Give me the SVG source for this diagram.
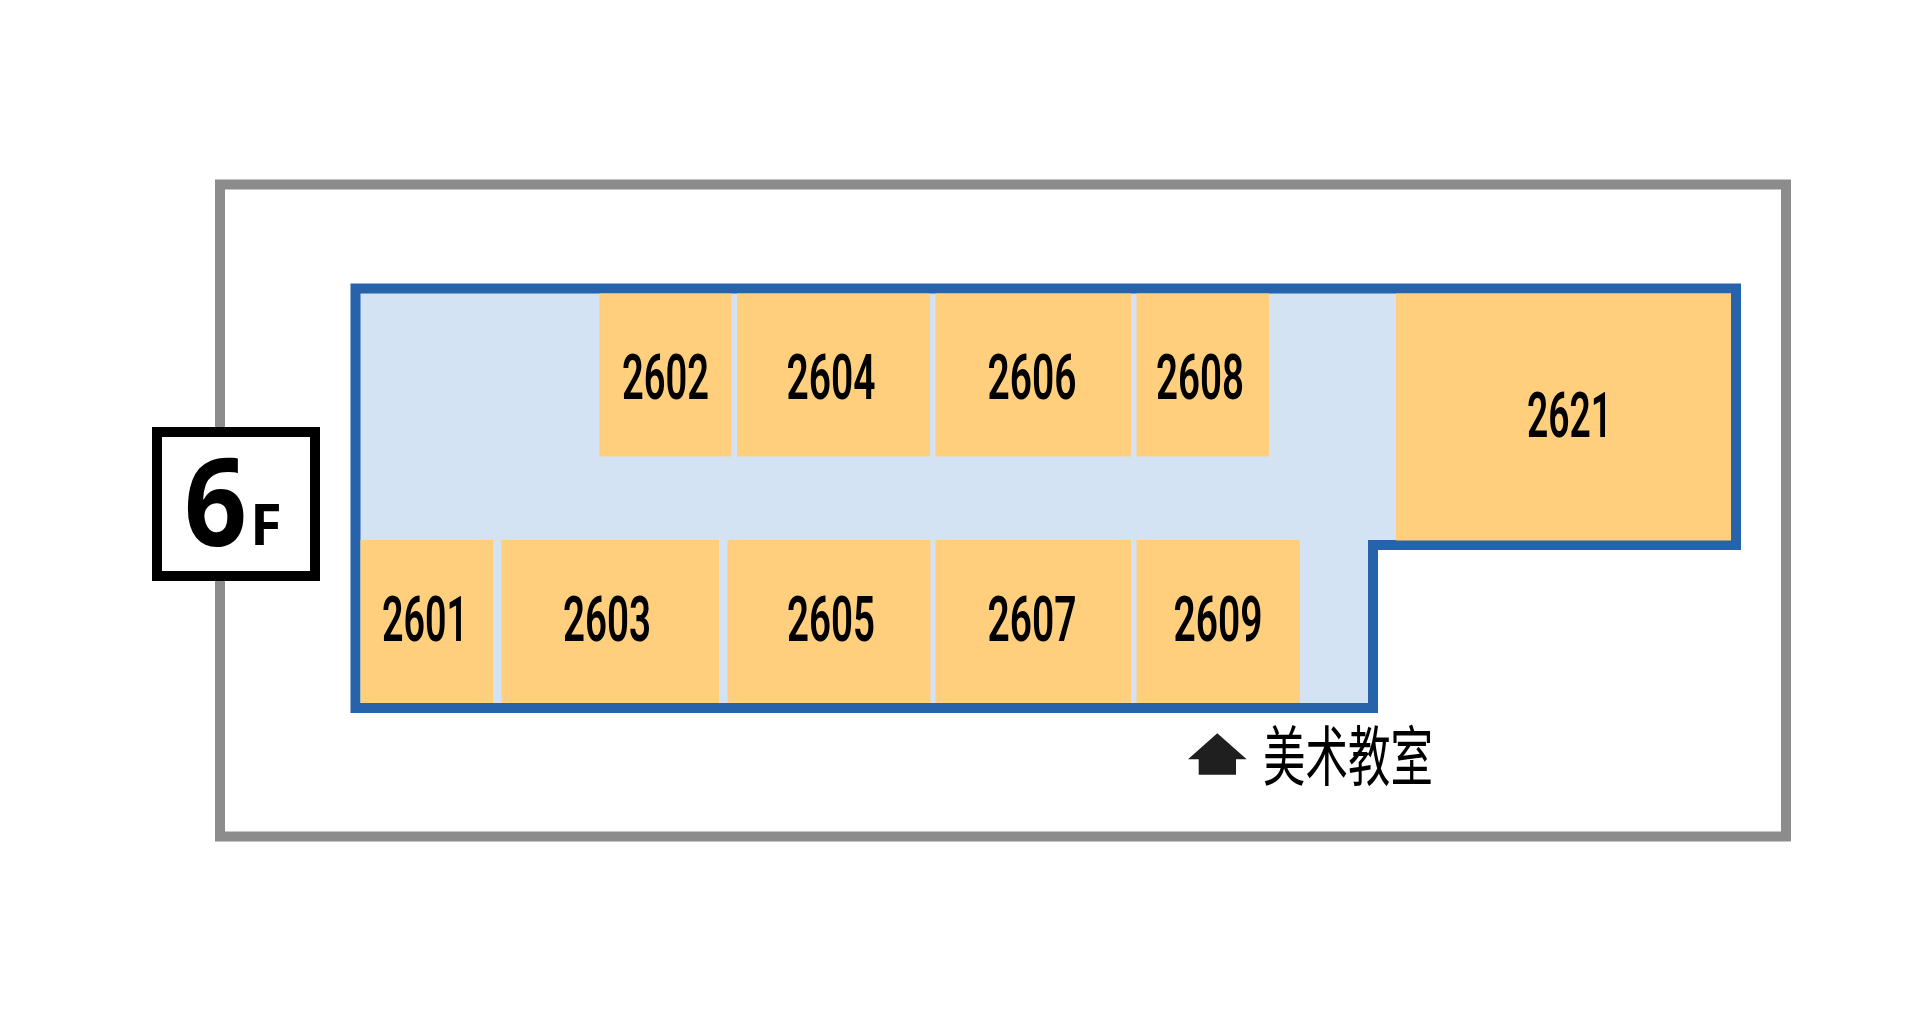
<svg xmlns="http://www.w3.org/2000/svg" width="1927" height="1019" viewBox="0 0 1927 1019">
<style>
.room{fill:#ffcf7e}
.num{font-family:"Roboto","Liberation Sans",sans-serif;font-weight:600;font-size:63px;fill:#000}
.fl{font-family:"Open Sans","Liberation Sans",sans-serif;font-weight:700;fill:#000}
</style>
<rect width="1927" height="1019" fill="#fff"/>
<g id="building"><rect x="220" y="184.500" width="1566" height="652" fill="#fff" stroke="#8c8c8c" stroke-width="10"/></g>
<g id="floor"><path d="M355.500 288.500H1736V545H1373V708H355.500Z" fill="#d4e3f3" stroke="#2763ab" stroke-width="10"/></g>
<g id="r2602"><rect class="room" x="599.500" y="293.500" width="132" height="163"/><text class="num" x="622" y="399" textLength="87" lengthAdjust="spacingAndGlyphs">2602</text></g>
<g id="r2604"><rect class="room" x="737" y="293.500" width="193" height="163"/><text class="num" x="786.500" y="399" textLength="89" lengthAdjust="spacingAndGlyphs">2604</text></g>
<g id="r2606"><rect class="room" x="935.500" y="293.500" width="195.500" height="163"/><text class="num" x="987.500" y="399" textLength="89" lengthAdjust="spacingAndGlyphs">2606</text></g>
<g id="r2608"><rect class="room" x="1136.500" y="293.500" width="132.500" height="163"/><text class="num" x="1156" y="399" textLength="88" lengthAdjust="spacingAndGlyphs">2608</text></g>
<g id="r2621"><rect class="room" x="1396" y="293.500" width="335" height="247"/><text class="num" x="1527" y="437" textLength="85" lengthAdjust="spacingAndGlyphs">2621</text></g>
<g id="r2601"><rect class="room" x="360.500" y="540" width="132.500" height="163"/><text class="num" x="382" y="641" textLength="86" lengthAdjust="spacingAndGlyphs">2601</text></g>
<g id="r2603"><rect class="room" x="501.500" y="540" width="217.500" height="163"/><text class="num" x="563" y="641" textLength="88" lengthAdjust="spacingAndGlyphs">2603</text></g>
<g id="r2605"><rect class="room" x="727.500" y="540" width="203" height="163"/><text class="num" x="787" y="641" textLength="88" lengthAdjust="spacingAndGlyphs">2605</text></g>
<g id="r2607"><rect class="room" x="935.500" y="540" width="195.500" height="163"/><text class="num" x="987.500" y="641" textLength="89" lengthAdjust="spacingAndGlyphs">2607</text></g>
<g id="r2609"><rect class="room" x="1136.500" y="540" width="163.500" height="163"/><text class="num" x="1173.500" y="641" textLength="89" lengthAdjust="spacingAndGlyphs">2609</text></g>
<g id="floor-label"><rect x="157" y="432" width="158" height="144" fill="#fff" stroke="#000" stroke-width="10"/><text class="fl" x="184" y="546" font-size="122" font-weight="800" textLength="63" lengthAdjust="spacingAndGlyphs">6</text><text class="fl" x="250" y="545" font-size="58">F</text></g>
<g id="art-room"><path d="M1217.300 733.300L1246.700 759.300H1236V774.700H1198.700V759.300H1188Z" fill="#1f1f1f"/><text x="1263" y="780" font-family="'Noto Sans CJK SC',sans-serif" font-size="65" font-weight="400" textLength="170" lengthAdjust="spacingAndGlyphs" fill="#000">美术教室</text></g>
<g id="connectors"></g>
</svg>
